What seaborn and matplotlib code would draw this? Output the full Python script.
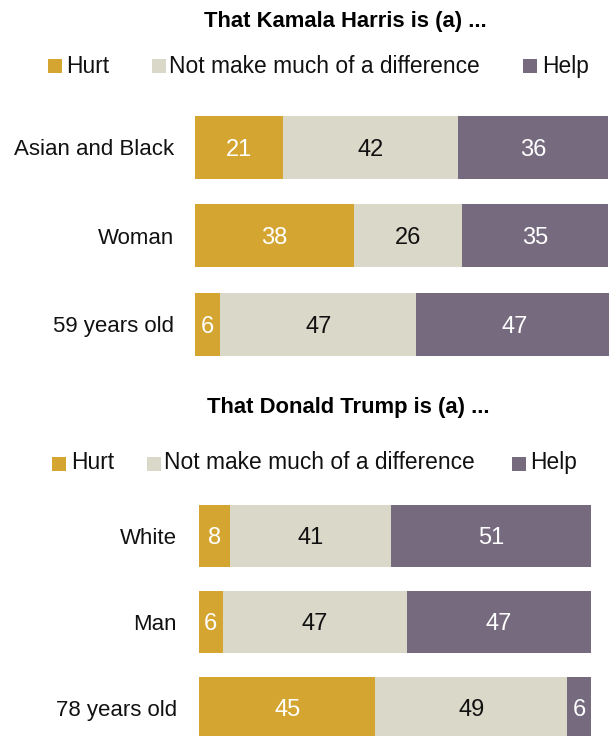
import numpy as np
import pandas as pd
import matplotlib
matplotlib.use("Agg")
import matplotlib.pyplot as plt
from matplotlib.patches import Rectangle
import seaborn as sns

# Response categories and their colours
responses = ["Hurt", "Not make much of a difference", "Help"]
colors = ["#D4A631", "#DAD8C8", "#766A7E"]
value_text_colors = ["white", "#111111", "white"]

# Kamala Harris panel
harris_title = "That Kamala Harris is (a) ..."
harris_groups = ["Asian and Black", "Woman", "59 years old"]
harris_hurt = [21, 38, 6]
harris_none = [42, 26, 47]
harris_help = [36, 35, 47]

# Donald Trump panel
trump_title = "That Donald Trump is (a) ..."
trump_groups = ["White", "Man", "78 years old"]
trump_hurt = [8, 6, 45]
trump_none = [41, 47, 49]
trump_help = [51, 47, 6]

W, H, DPI = 609, 736, 100

sns.set_style("white")
plt.rcParams["font.family"] = ["Liberation Sans", "DejaVu Sans"]

fig = plt.figure(figsize=(W / DPI, H / DPI), dpi=DPI)


def px_axes(left, top, width, height):
    return fig.add_axes([left / W, 1 - (top + height) / H, width / W, height / H])


def draw_panel(ax, groups, hurt, none, help_, bar_width, pad):
    df = pd.DataFrame({"group": groups, "hurt": hurt, "none": none, "help": help_})
    df["end_hurt"] = df["hurt"]
    df["end_none"] = df["hurt"] + df["none"]
    df["end_help"] = df["end_none"] + df["help"]
    # longest cumulative bar first, shorter ones layered on top
    for col, color in zip(["end_help", "end_none", "end_hurt"], colors[::-1]):
        sns.barplot(data=df, x=col, y="group", order=groups, color=color,
                    saturation=1, width=bar_width, errorbar=None, linewidth=0,
                    orient="h", ax=ax)
    starts = np.zeros(len(groups))
    for vals, tc in zip([hurt, none, help_], value_text_colors):
        for i, v in enumerate(vals):
            ax.annotate(str(v), (starts[i] + v / 2, i), xytext=(0, -1.8),
                        textcoords="offset points", ha="center", va="center",
                        color=tc, fontsize=17)
        starts += np.array(vals)
    ax.set_xlim(0, 100)
    ax.set_ylim(len(groups) - 0.5, -0.5)
    ax.set_xlabel("")
    ax.set_ylabel("")
    ax.set_xticks([])
    ax.tick_params(axis="y", length=0, pad=pad, labelsize=16, labelcolor="#111111")
    sns.despine(ax=ax, left=True, bottom=True)


def draw_legend(square_x, square_top, text_x, baseline, size=14):
    for lbl, c, sx, tx in zip(responses, colors, square_x, text_x):
        fig.patches.append(Rectangle((sx / W, 1 - (square_top + size) / H),
                                     size / W, size / H,
                                     transform=fig.transFigure,
                                     facecolor=c, edgecolor="none"))
        fig.text(tx / W, 1 - baseline / H, lbl, ha="left", va="baseline",
                 fontsize=16.4, color="#111111")


# Harris
fig.text(345.5 / W, 1 - 27.3 / H, harris_title, ha="center", va="baseline",
         fontsize=15.8, fontweight="bold", color="black")
draw_legend([47.5, 152, 523], 59.3, [66, 169, 542], 73.3)
ax1 = px_axes(195.3, 102.95, 417, 265.5)
draw_panel(ax1, harris_groups, harris_hurt, harris_none, harris_help, 0.712, 15.3)

# Trump
fig.text(348 / W, 1 - 413.3 / H, trump_title, ha="center", va="baseline",
         fontsize=15.8, fontweight="bold", color="black")
draw_legend([51.7, 147, 512], 457, [70.7, 164, 530], 469.3)
ax2 = px_axes(199, 492.8, 392, 258)
draw_panel(ax2, trump_groups, trump_hurt, trump_none, trump_help, 0.717, 15.8)

fig.savefig("out.png", dpi=DPI)
